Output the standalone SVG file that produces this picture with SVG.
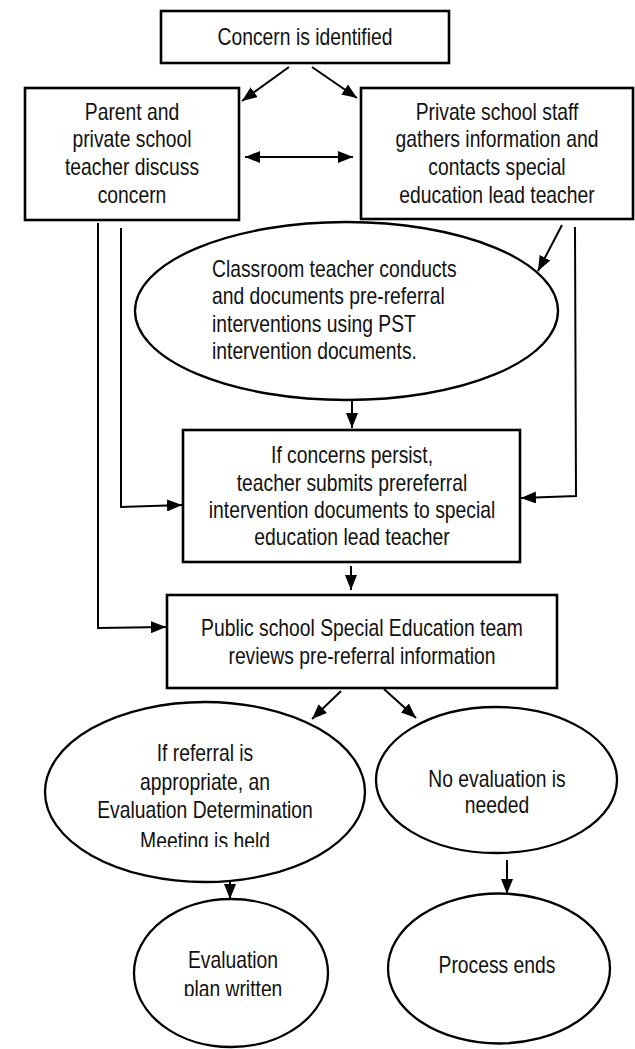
<svg xmlns="http://www.w3.org/2000/svg" width="635" height="1049" viewBox="0 0 635 1049">
<style>
  .box { fill: #ffffff; stroke: #000000; stroke-width: 2.6; }
  .ell { fill: #ffffff; stroke: #000000; stroke-width: 2.3; }
  .t { font-family: "Liberation Sans", Arial, sans-serif; font-size: 23px; fill: #111111; text-anchor: middle; }
  .tl { text-anchor: start; }
  .c { fill: none; stroke: #000000; stroke-width: 2; }
  .a { marker-end: url(#ah); }
</style>
<defs>
  <marker id="ah" markerUnits="userSpaceOnUse" markerWidth="15" markerHeight="12" refX="15" refY="6" orient="auto-start-reverse">
    <path d="M0,0 L15,6 L0,12 z" fill="#000000"/>
  </marker>
  <clipPath id="clipL"><rect x="0" y="0" width="635" height="847"/></clipPath>
  <clipPath id="clipE"><rect x="0" y="0" width="635" height="996"/></clipPath>
</defs>
<rect x="0" y="0" width="635" height="1049" fill="#ffffff"/>

<g id="connectors">
  <line class="c a" x1="289" y1="67" x2="242" y2="101"/>
  <line class="c a" x1="312" y1="67" x2="357" y2="98"/>
  <line class="c a" x1="245" y1="157" x2="353" y2="157" style="marker-start:url(#ah)"/>
  <line class="c a" x1="562" y1="225" x2="538" y2="271"/>
  <line class="c a" x1="352" y1="401" x2="352" y2="428"/>
  <polyline class="c a" points="575,227 576,496 521,498"/>
  <polyline class="c a" points="121,228 121,507 182,505"/>
  <polyline class="c a" points="98,223 98,628 166,627"/>
  <line class="c a" x1="351" y1="566" x2="351" y2="590"/>
  <line class="c a" x1="341" y1="691" x2="312" y2="719"/>
  <line class="c a" x1="384" y1="689" x2="416" y2="718"/>
  <line class="c a" x1="230" y1="882" x2="230" y2="899"/>
  <line class="c a" x1="507" y1="860" x2="507" y2="894"/>
</g>

<g id="n1">
  <rect class="box" x="161" y="11" width="288" height="52"/>
  <text class="t" transform="translate(305,45) scale(0.84,1)">Concern is identified</text>
</g>

<g id="n2">
  <rect class="box" x="25" y="88" width="214" height="132"/>
  <text class="t" transform="translate(132,120) scale(0.84,1)">Parent and</text>
  <text class="t" transform="translate(132,147) scale(0.84,1)">private school</text>
  <text class="t" transform="translate(132,175) scale(0.84,1)">teacher discuss</text>
  <text class="t" transform="translate(132,203) scale(0.84,1)">concern</text>
</g>

<g id="n3">
  <rect class="box" x="361" y="88" width="272" height="131"/>
  <text class="t" transform="translate(497,120) scale(0.84,1)">Private school staff</text>
  <text class="t" transform="translate(497,147) scale(0.84,1)">gathers information and</text>
  <text class="t" transform="translate(497,175) scale(0.84,1)">contacts special</text>
  <text class="t" transform="translate(497,203) scale(0.84,1)">education lead teacher</text>
</g>

<g id="n4">
  <ellipse class="ell" cx="346.5" cy="311" rx="211.5" ry="89"/>
  <text class="t tl" transform="translate(212,277) scale(0.84,1)">Classroom teacher conducts</text>
  <text class="t tl" transform="translate(212,304) scale(0.84,1)">and documents pre-referral</text>
  <text class="t tl" transform="translate(212,332) scale(0.84,1)">interventions using PST</text>
  <text class="t tl" transform="translate(212,359) scale(0.84,1)">intervention documents.</text>
</g>

<g id="n5">
  <rect class="box" x="183" y="430" width="337" height="132"/>
  <text class="t" transform="translate(352,463) scale(0.84,1)">If concerns persist,</text>
  <text class="t" transform="translate(352,491) scale(0.84,1)">teacher submits prereferral</text>
  <text class="t" transform="translate(352,518) scale(0.84,1)">intervention documents to special</text>
  <text class="t" transform="translate(352,545) scale(0.84,1)">education lead teacher</text>
</g>

<g id="n6">
  <rect class="box" x="167" y="595" width="390" height="93"/>
  <text class="t" transform="translate(362,636) scale(0.84,1)">Public school Special Education team</text>
  <text class="t" transform="translate(362,664) scale(0.84,1)">reviews pre-referral information</text>
</g>

<g id="n7">
  <ellipse class="ell" cx="205" cy="792" rx="160" ry="90"/>
  <text class="t" transform="translate(205,761) scale(0.84,1)">If referral is</text>
  <text class="t" transform="translate(205,790) scale(0.84,1)">appropriate, an</text>
  <text class="t" transform="translate(205,818) scale(0.84,1)">Evaluation Determination</text>
  <g clip-path="url(#clipL)">
    <text class="t" transform="translate(205,849) scale(0.84,1)">Meeting is held</text>
  </g>
</g>

<g id="n8">
  <ellipse class="ell" cx="496.5" cy="780" rx="120.5" ry="73"/>
  <text class="t" transform="translate(497,787) scale(0.84,1)">No evaluation is</text>
  <text class="t" transform="translate(497,813) scale(0.84,1)">needed</text>
</g>

<g id="n9">
  <ellipse class="ell" cx="231" cy="973" rx="97" ry="74"/>
  <text class="t" transform="translate(233,968) scale(0.84,1)">Evaluation</text>
  <g clip-path="url(#clipE)">
    <text class="t" transform="translate(233,997) scale(0.84,1)">plan written</text>
  </g>
</g>

<g id="n10">
  <ellipse class="ell" cx="499" cy="968.5" rx="111" ry="75"/>
  <text class="t" transform="translate(497,973) scale(0.84,1)">Process ends</text>
</g>
</svg>
